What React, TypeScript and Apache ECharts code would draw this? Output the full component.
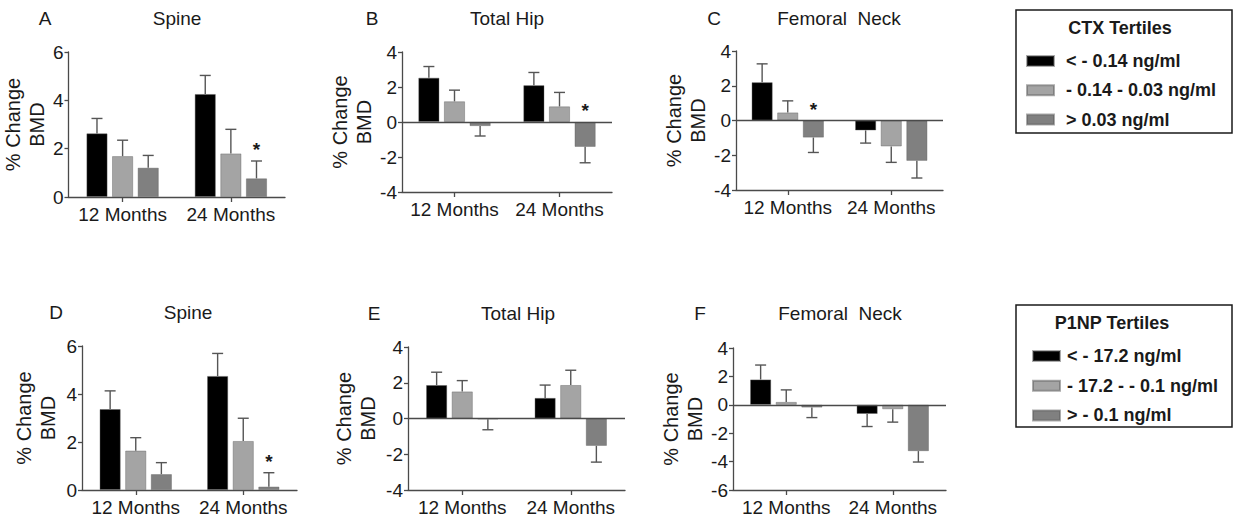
import React, { useEffect, useRef } from "react";
import * as echarts from "echarts";

// ---------- DATA ----------
const categories = ["12 Months", "24 Months"];
const ctxNames = ["< - 0.14 ng/ml", "- 0.14 - 0.03 ng/ml", "> 0.03 ng/ml"];
const p1npNames = ["< - 17.2 ng/ml", "- 17.2 - - 0.1 ng/ml", "> - 0.1 ng/ml"];
const tertileColors = ["#000000", "#a4a4a4", "#808080"];

// mean % change BMD per tertile [12 Months, 24 Months]
const spineCtxMean = [[2.63, 4.26], [1.69, 1.8], [1.21, 0.77]];
const spineCtxSem = [[0.62, 0.77], [0.66, 1.0], [0.51, 0.72]];
const spineCtxStars = [[2, 1]];

const hipCtxMean = [[2.53, 2.1], [1.18, 0.89], [-0.23, -1.42]];
const hipCtxSem = [[0.64, 0.73], [0.64, 0.8], [0.57, 0.91]];
const hipCtxStars = [[2, 1]];

const neckCtxMean = [[2.2, -0.57], [0.46, -1.49], [-0.98, -2.32]];
const neckCtxSem = [[1.06, 0.73], [0.67, 0.92], [0.86, 0.99]];
const neckCtxStars = [[2, 0]];

const spineP1npMean = [[3.37, 4.75], [1.64, 2.04], [0.66, 0.14]];
const spineP1npSem = [[0.76, 0.94], [0.54, 0.95], [0.48, 0.58]];
const spineP1npStars = [[2, 1]];

const hipP1npMean = [[1.87, 1.15], [1.51, 1.87], [-0.04, -1.53]];
const hipP1npSem = [[0.72, 0.72], [0.61, 0.83], [0.59, 0.91]];
const hipP1npStars: number[][] = [];

const neckP1npMean = [[1.78, -0.64], [0.2, -0.31], [-0.19, -3.26]];
const neckP1npSem = [[1.02, 0.89], [0.85, 0.91], [0.71, 0.77]];
const neckP1npStars: number[][] = [];

const yTicksSpine = { min: 0, max: 6, interval: 2 };
const yTicksHip = { min: -4, max: 4, interval: 2 };
const yTicksNeckF = { min: -6, max: 4, interval: 2 };

// ---------- LAYOUT ----------
const FONT = "'Liberation Sans', Arial, Helvetica, sans-serif";
const BAR_W = 21;
const BAR_GAP = 0.22;

const panels = [
  { letter: "A", title: "Spine", names: ctxNames, mean: spineCtxMean, sem: spineCtxSem, stars: spineCtxStars, y: yTicksSpine, zeroLine: false,
    grid: { left: 68, top: 52, width: 217, height: 145 }, nameGap: 14, letterPos: [45, 18], titlePos: [177, 18] },
  { letter: "B", title: "Total Hip", names: ctxNames, mean: hipCtxMean, sem: hipCtxSem, stars: hipCtxStars, y: yTicksHip, zeroLine: true,
    grid: { left: 402, top: 52, width: 210, height: 140 }, nameGap: 26, letterPos: [372, 18], titlePos: [507, 18] },
  { letter: "C", title: "Femoral  Neck", names: ctxNames, mean: neckCtxMean, sem: neckCtxSem, stars: neckCtxStars, y: yTicksHip, zeroLine: true,
    grid: { left: 736, top: 51, width: 207, height: 139 }, nameGap: 26, letterPos: [714, 18], titlePos: [839, 18] },
  { letter: "D", title: "Spine", names: p1npNames, mean: spineP1npMean, sem: spineP1npSem, stars: spineP1npStars, y: yTicksSpine, zeroLine: false,
    grid: { left: 82, top: 346, width: 215, height: 145 }, nameGap: 22, letterPos: [56, 312], titlePos: [188, 312] },
  { letter: "E", title: "Total Hip", names: p1npNames, mean: hipP1npMean, sem: hipP1npSem, stars: hipP1npStars, y: yTicksHip, zeroLine: true,
    grid: { left: 408, top: 347, width: 217, height: 144 }, nameGap: 28, letterPos: [374, 313], titlePos: [518, 313] },
  { letter: "F", title: "Femoral  Neck", names: p1npNames, mean: neckP1npMean, sem: neckP1npSem, stars: neckP1npStars, y: yTicksNeckF, zeroLine: true,
    grid: { left: 733, top: 348, width: 213, height: 142 }, nameGap: 23, letterPos: [700, 313], titlePos: [840, 313] },
];

function buildOption() {
  const grid: any[] = [];
  const xAxis: any[] = [];
  const yAxis: any[] = [];
  const series: any[] = [];
  const graphic: any[] = [];

  panels.forEach((p, pi) => {
    grid.push({ ...p.grid, containLabel: false });
    xAxis.push({
      type: "category",
      gridIndex: pi,
      data: categories,
      axisLine: { show: true, onZero: false, lineStyle: { color: "#4a4a4a", width: 1.3 } },
      axisTick: { show: true, alignWithLabel: true, length: 5, lineStyle: { color: "#4a4a4a", width: 1.3 } },
      axisLabel: { fontSize: 19, fontFamily: FONT, color: "#1a1a1a", margin: 8, interval: 0, hideOverlap: false },
      splitLine: { show: false },
    });
    yAxis.push({
      type: "value",
      gridIndex: pi,
      min: p.y.min,
      max: p.y.max,
      interval: p.y.interval,
      name: "% Change\nBMD",
      nameLocation: "middle",
      nameGap: p.nameGap,
      nameTextStyle: { fontSize: 20, fontFamily: FONT, color: "#1a1a1a", lineHeight: 24 },
      axisLine: { show: true, lineStyle: { color: "#4a4a4a", width: 1.3 } },
      axisTick: { show: true, length: 4, lineStyle: { color: "#4a4a4a", width: 1.3 } },
      axisLabel: { fontSize: 19, fontFamily: FONT, color: "#1a1a1a", margin: 5 },
      splitLine: { show: false },
    });

    p.mean.forEach((vals, k) => {
      const s: any = {
        type: "bar",
        name: p.names[k],
        xAxisIndex: pi,
        yAxisIndex: pi,
        data: vals,
        barWidth: BAR_W,
        barGap: BAR_GAP * 100 + "%",
        itemStyle: { color: tertileColors[k], borderColor: "rgba(90,90,90,0.5)", borderWidth: 0.8 },
        z: 2,
      };
      if (p.zeroLine && k === 0) {
        s.markLine = {
          silent: true,
          symbol: ["none", "none"],
          label: { show: false },
          lineStyle: { color: "#4a4a4a", width: 1.3, type: "solid" },
          data: [{ yAxis: 0 }],
          z: 5,
        };
      }
      series.push(s);
    });

    // error bars (+ significance stars)
    const errData: any[] = [];
    p.mean.forEach((vals, k) => {
      vals.forEach((v, c) => {
        const e = p.sem[k][c];
        const end = v >= 0 ? v + e : v - e;
        const star = p.stars.some((st) => st[0] === k && st[1] === c) ? 1 : 0;
        errData.push([c, v, end, k, star]);
      });
    });
    series.push({
      type: "custom",
      xAxisIndex: pi,
      yAxisIndex: pi,
      data: errData,
      encode: { x: 0, y: [1, 2] },
      z: 3,
      silent: true,
      clip: false,
      renderItem: (params: any, api: any) => {
        const c = api.value(0);
        const v = api.value(1);
        const end = api.value(2);
        const k = api.value(3);
        const star = api.value(4);
        const p0 = api.coord([c, v]);
        const p1 = api.coord([c, end]);
        const off = (k - 1) * BAR_W * (1 + BAR_GAP);
        const x = p0[0] + off;
        const capHalf = 5.5;
        const stroke = { stroke: "#555555", lineWidth: 1.4 };
        const children: any[] = [
          { type: "line", shape: { x1: x, y1: p0[1], x2: x, y2: p1[1] }, style: stroke },
          { type: "line", shape: { x1: x - capHalf, y1: p1[1], x2: x + capHalf, y2: p1[1] }, style: stroke },
        ];
        if (star) {
          const anchorY = v >= 0 ? p1[1] : api.coord([c, 0])[1];
          children.push({
            type: "text",
            x: x,
            y: anchorY - 2,
            style: {
              text: "*",
              fontSize: 19,
              fontFamily: FONT,
              fontWeight: "bold",
              fill: "#1a1a1a",
              align: "center",
              verticalAlign: "bottom",
            },
          });
        }
        return { type: "group", children };
      },
    });

    graphic.push({
      type: "text",
      x: p.letterPos[0],
      y: p.letterPos[1],
      style: { text: p.letter, fontSize: 19, fontFamily: FONT, fill: "#1a1a1a", align: "center", verticalAlign: "middle", textAlign: "center", textVerticalAlign: "middle" },
    });
    graphic.push({
      type: "text",
      x: p.titlePos[0],
      y: p.titlePos[1],
      style: { text: p.title, fontSize: 19, fontFamily: FONT, fill: "#1a1a1a", align: "center", verticalAlign: "middle", textAlign: "center", textVerticalAlign: "middle" },
    });
  });

  // legend boxes
  const boxes = [
    { x: 1016, y: 10, w: 216, h: 123, title: "CTX Tertiles", tx: 1120, ty: 28 },
    { x: 1016, y: 305, w: 216, h: 122, title: "P1NP Tertiles", tx: 1112, ty: 323 },
  ];
  boxes.forEach((b) => {
    graphic.push({
      type: "rect",
      shape: { x: b.x, y: b.y, width: b.w, height: b.h },
      style: { fill: "none", stroke: "#1a1a1a", lineWidth: 1.5 },
    });
    graphic.push({
      type: "text",
      x: b.tx,
      y: b.ty,
      style: { text: b.title, fontSize: 18, fontWeight: "bold", fontFamily: FONT, fill: "#1a1a1a", align: "center", verticalAlign: "middle", textAlign: "center", textVerticalAlign: "middle" },
    });
  });

  const legendText = { fontSize: 18, fontWeight: "bold", fontFamily: FONT, color: "#1a1a1a", lineHeight: 20, padding: [0, 0, 0, 7] };
  const legend = [
    {
      orient: "vertical",
      left: 1021,
      top: 46,
      data: ctxNames,
      icon: "rect",
      itemWidth: 27,
      itemHeight: 10,
      itemGap: 9.3,
      textStyle: legendText,
      selectedMode: false,
    },
    {
      orient: "vertical",
      left: 1027,
      top: 341,
      data: p1npNames,
      icon: "rect",
      itemWidth: 27,
      itemHeight: 10,
      itemGap: 9.7,
      textStyle: { ...legendText, padding: [0, 0, 0, 2] },
      selectedMode: false,
    },
  ];

  return { animation: false, backgroundColor: "#ffffff", grid, xAxis, yAxis, series, graphic, legend };
}

export default function App() {
  const ref = useRef<HTMLDivElement>(null);
  useEffect(() => {
    if (!ref.current) return;
    const chart = echarts.init(ref.current, undefined, { renderer: "svg" });
    chart.setOption(buildOption() as any);
    return () => chart.dispose();
  }, []);
  return (
    <div
      ref={ref}
      style={{ position: "fixed", left: 0, top: 0, width: 1235, height: 517, background: "#fff" }}
    />
  );
}
